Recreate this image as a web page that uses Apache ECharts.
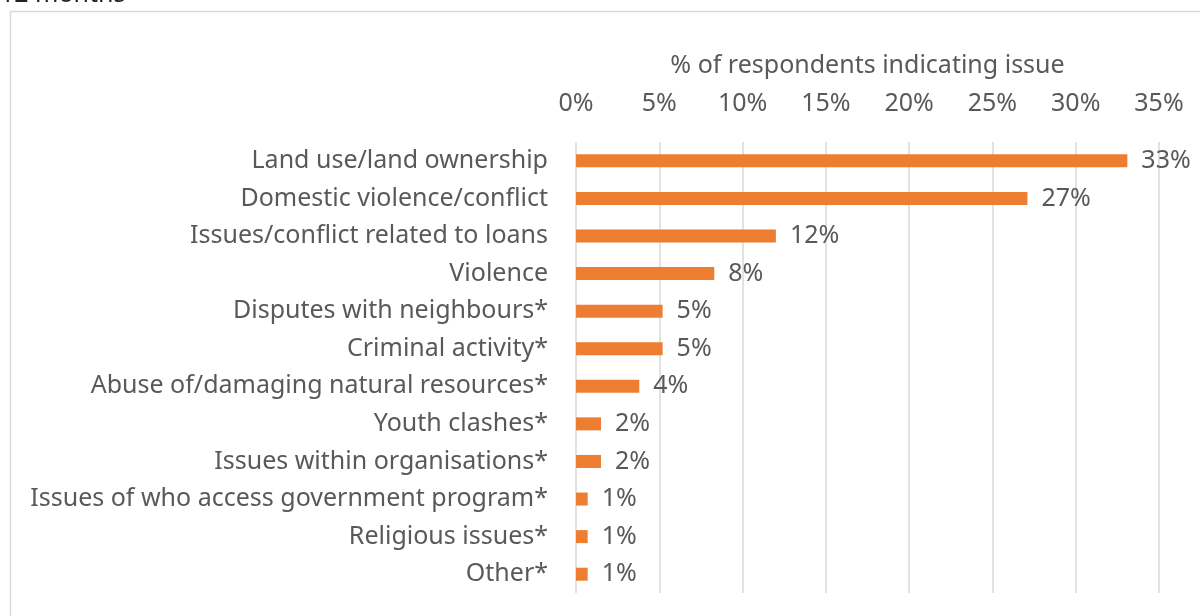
<!DOCTYPE html>
<html>
<head>
<meta charset="utf-8">
<script src="https://cdn.jsdelivr.net/npm/echarts@6/dist/echarts.min.js"></script>
<style>
  html, body { margin: 0; padding: 0; background: #ffffff; }
  #chart { width: 1200px; height: 616px; }
</style>
</head>
<body>
<div id="chart"></div>
<script>
// Issues reported by respondents (share of respondents, %)
const categories = [
  'Land use/land ownership',
  'Domestic violence/conflict',
  'Issues/conflict related to loans',
  'Violence',
  'Disputes with neighbours*',
  'Criminal activity*',
  'Abuse of/damaging natural resources*',
  'Youth clashes*',
  'Issues within organisations*',
  'Issues of who access government program*',
  'Religious issues*',
  'Other*'
];
const shares = [33.1, 27.1, 12.0, 8.3, 5.2, 5.2, 3.8, 1.5, 1.5, 0.7, 0.7, 0.7];
const axisTitle = '% of respondents indicating issue';
const captionTail = '12 months';

const FONT = '"Noto Sans", "Open Sans", sans-serif';
const TEXT = '#595959';
const SIZE = 25;

const chart = echarts.init(document.getElementById('chart'), null, { renderer: 'canvas' });

chart.setOption({
  animation: false,
  backgroundColor: '#ffffff',
  graphic: [
    {
      // tail of the caption line above the chart frame
      type: 'text',
      x: 0,
      y: -18,
      style: {
        text: captionTail,
        font: SIZE + 'px ' + FONT,
        fill: '#222222'
      }
    },
    {
      type: 'rect',
      shape: { x: 10.5, y: 11.5, width: 1400, height: 800 },
      style: { fill: 'none', stroke: '#d9d9d9', lineWidth: 1.5 }
    }
  ],
  grid: { left: 576, right: 41, top: 142, bottom: 23 },
  xAxis: {
    type: 'value',
    position: 'top',
    min: 0,
    max: 35,
    interval: 5,
    name: axisTitle,
    nameLocation: 'middle',
    nameGap: 64,
    nameTextStyle: { color: TEXT, fontSize: SIZE, fontFamily: FONT },
    axisLine: { show: false },
    axisTick: { show: false },
    axisLabel: {
      color: TEXT, fontSize: SIZE, fontFamily: FONT, margin: 26,
      formatter: v => v + '%'
    },
    splitLine: { show: true, lineStyle: { color: '#d9d9d9', width: 1.5 } }
  },
  yAxis: {
    type: 'category',
    inverse: true,
    data: categories,
    axisLine: { show: false },
    axisTick: { show: false },
    axisLabel: { color: TEXT, fontSize: SIZE, fontFamily: FONT, margin: 28 }
  },
  series: [{
    type: 'bar',
    data: shares,
    barWidth: 13,
    itemStyle: { color: '#ED7D31' },
    label: {
      show: true,
      position: 'right',
      distance: 14,
      color: TEXT,
      fontSize: SIZE,
      fontFamily: FONT,
      formatter: p => Math.round(p.value) + '%'
    }
  }]
});
</script>
</body>
</html>
